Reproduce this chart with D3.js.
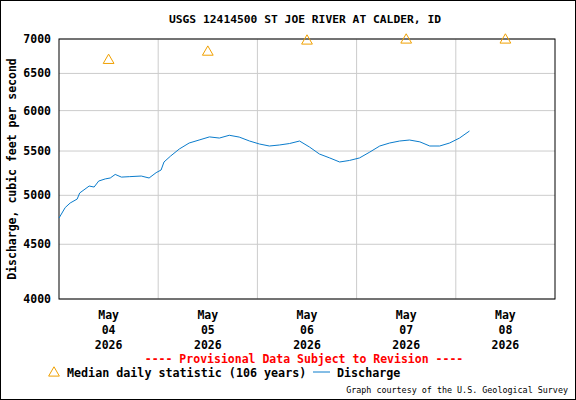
<!DOCTYPE html>
<html><head><meta charset="utf-8">
<script src="https://cdn.jsdelivr.net/npm/d3@7"></script>
<style>body{margin:0;background:#fff}svg text{font-family:"DejaVu Sans Mono",monospace;font-weight:bold}</style>
</head><body><div id="chart"></div>
<script>
// hours since May 04 00:00 and discharge in cfs
var hours = [0,1.5,2.7,4.4,5,7.3,8.5,9.6,11.2,12.4,13.6,15.1,17,19.9,21.8,23.5,24.7,25.4,27,29.1,31.5,33.9,36.4,38.8,41.2,43.6,46.1,48.5,50.9,53.3,55.8,58.2,60.6,63,65.5,67.9,70.3,72.7,75.2,77.6,80,82.4,84.8,87.3,89.7,92.1,94.5,96.9,99.3];
var discharge = [4761,4870,4918,4960,5025,5101,5090,5156,5180,5190,5230,5200,5205,5212,5190,5250,5280,5372,5441,5524,5596,5632,5670,5656,5690,5668,5620,5584,5560,5572,5590,5620,5548,5465,5419,5372,5390,5419,5488,5560,5596,5620,5632,5610,5560,5560,5596,5656,5742];
var medianDays = ["2026-05-04","2026-05-05","2026-05-06","2026-05-07","2026-05-08"];
var medianValues = [6700,6820,6985,7000,7000];
var yTicks = [4000,4500,5000,5500,6000,6500,7000];

var W = 576, H = 400;
var svg = d3.select("#chart").append("svg").attr("width", W).attr("height", H);
svg.append("rect").attr("x",0.5).attr("y",0.5).attr("width",W-1).attr("height",H-1)
	.attr("fill","#fff").attr("stroke","#000");

var t0 = new Date(2026,4,4);
var x = d3.scaleTime().domain([t0, new Date(2026,4,9)]).range([59,555]);
var y = d3.scaleLog().domain([4000,7000]).range([299,39]);
function hr(h){ return new Date(t0.getTime() + h*3600000); }

// grid
var days = d3.timeDay.range(new Date(2026,4,5), new Date(2026,4,9));
svg.selectAll(".vg").data(days).enter().append("line")
	.attr("x1",d=>x(d)).attr("x2",d=>x(d)).attr("y1",39).attr("y2",299)
	.attr("stroke","#ccc").attr("stroke-width",1);
svg.selectAll(".hg").data(yTicks).enter().append("line")
	.attr("x1",59).attr("x2",555).attr("y1",d=>y(d)).attr("y2",d=>y(d))
	.attr("stroke","#ccc").attr("stroke-width",1);
svg.append("rect").attr("x",59).attr("y",39).attr("width",496).attr("height",260)
	.attr("fill","none").attr("stroke","#000");

// y labels
svg.selectAll(".yl").data(yTicks).enter().append("text")
	.attr("x",51).attr("y",d=>y(d)+4).attr("text-anchor","end")
	.attr("font-size",11.5).text(d=>d);
svg.append("text").attr("transform","translate(16,169) rotate(-90)")
	.attr("text-anchor","middle").attr("font-size",11.5)
	.text("Discharge, cubic feet per second");

// x labels at noon
var noons = medianDays.map(d=>new Date(d+"T12:00:00"));
noons.forEach(function(d){
	var g = svg.append("g").attr("transform","translate("+x(d)+",0)");
	[["May",319],[d3.timeFormat("%d")(d),334],["2026",349]].forEach(function(p){
		g.append("text").attr("y",p[1]).attr("text-anchor","middle").attr("font-size",11.5).text(p[0]);
	});
});

// title
svg.append("text").attr("x",305).attr("y",23).attr("text-anchor","middle").attr("font-size",11.3)
	.text("USGS 12414500 ST JOE RIVER AT CALDER, ID");

// discharge line
var line = d3.line().x((d,i)=>x(hr(hours[i]))).y(d=>y(d));
svg.append("path").datum(discharge).attr("d",line).attr("fill","none")
	.attr("stroke","#0a7ccc").attr("stroke-width",1);

// median triangles
var tri = d3.symbol().type(d3.symbolTriangle).size(50);
svg.selectAll(".md").data(medianValues).enter().append("path")
	.attr("d",tri).attr("transform",(d,i)=>"translate("+x(noons[i])+","+(y(d)+1)+")")
	.attr("fill","none").attr("stroke","#f0a000").attr("stroke-width",1);

// footer
svg.append("text").attr("x",304).attr("y",363).attr("text-anchor","middle").attr("font-size",11.5)
	.attr("fill","#f00").text("---- Provisional Data Subject to Revision ----");
svg.append("path").attr("d",tri).attr("transform","translate(54,373)")
	.attr("fill","none").attr("stroke","#f0a000");
svg.append("text").attr("x",67).attr("y",377).attr("font-size",11.7).text("Median daily statistic (106 years)");
svg.append("line").attr("x1",313).attr("x2",330).attr("y1",372).attr("y2",372).attr("stroke","#0a7ccc");
svg.append("text").attr("x",337).attr("y",377).attr("font-size",11.7).text("Discharge");
svg.append("text").attr("x",568).attr("y",393).attr("text-anchor","end").attr("font-size",8.4)
	.style("font-weight","normal").text("Graph courtesy of the U.S. Geological Survey");
</script></body></html>
